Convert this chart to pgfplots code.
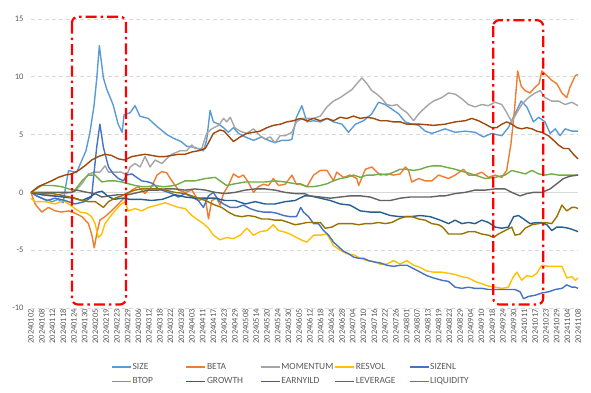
\documentclass[border=0pt]{standalone}
\usepackage{fontspec}
\setmainfont{Carlito}
\usepackage{pgfplots}
\pgfplotsset{compat=1.18}
\definecolor{cSize}{HTML}{5B9BD5}
\definecolor{cBeta}{HTML}{ED7D31}
\definecolor{cMom}{HTML}{A5A5A5}
\definecolor{cRes}{HTML}{FFC000}
\definecolor{cSizenl}{HTML}{4472C4}
\definecolor{cBtop}{HTML}{70AD47}
\definecolor{cGrowth}{HTML}{255E91}
\definecolor{cEarn}{HTML}{9E480E}
\definecolor{cLev}{HTML}{636363}
\definecolor{cLiq}{HTML}{997300}
\definecolor{labgray}{HTML}{595959}
\definecolor{gridgray}{HTML}{D9D9D9}
\begin{document}
\begin{tikzpicture}
\useasboundingbox (-31bp,-85bp) rectangle (560bp,308bp);
\begin{axis}[
  scale only axis, width=547bp, height=289bp,
  xmin=0, xmax=204, ymin=-10, ymax=15,
  clip=false,
  axis line style={draw=none}, major tick length=0pt, tick style={draw=none},
  ytick={-10,-5,0,5,10,15}, yticklabels={-10,-5,0,5,10,15},
  extra y ticks={0}, extra y tick labels={},
  extra y tick style={grid style={solid, gridgray, line width=0.8bp}},
  xtick={0,4,...,204},
  xticklabels={20240102,20240108,20240112,20240118,20240124,20240130,20240205,20240219,20240223,20240229,20240306,20240312,20240318,20240322,20240328,20240403,20240411,20240417,20240423,20240429,20240508,20240514,20240520,20240524,20240530,20240605,20240612,20240618,20240624,20240628,20240704,20240710,20240716,20240722,20240726,20240801,20240807,20240813,20240819,20240823,20240829,20240904,20240910,20240918,20240924,20240930,20241011,20241017,20241023,20241029,20241104,20241108},
  xticklabel style={rotate=90, anchor=east, font=\fontsize{8.5}{9}\selectfont, text=labgray, inner sep=1bp},
  yticklabel style={font=\fontsize{8.5}{9}\selectfont, text=labgray, xshift=-4bp},
  ymajorgrids, grid style={gridgray, line width=0.7bp, dash pattern=on 4bp off 3bp},
  every axis plot/.append style={line width=1.4bp, line join=round},
  legend columns=5,
  legend image code/.code={\draw[#1] (0bp,0bp) -- (19bp,0bp);},
  legend style={draw=none, fill=none, at={(0,0)}, anchor=north west, xshift=80bp, yshift=-54bp,
    font=\fontsize{9.5}{10}\selectfont, text=labgray, inner sep=0pt, row sep=5bp,
    nodes={inner sep=1bp}},
]
\addplot[cSize] coordinates {(0,0)(2,-0.3)(5,-0.6)(8,-0.8)(10,-0.6)(12,-0.9)(13,0.6)(14,1.9)(15.5,1.8)(17,1.7)(19,2.8)(20.5,3.6)(22,5.2)(23.5,7.5)(24.5,9.8)(25.5,12.7)(27,9.9)(28.3,8.9)(30.6,7.6)(32.5,5.9)(34,5.2)(34.7,6.7)(37,6.9)(38.8,7.5)(40.6,6.6)(43.7,6.4)(47,5.7)(50.7,5.0)(53,4.7)(56,4.4)(58,4.0)(61,3.9)(64.3,3.6)(65.5,4.5)(66.8,7.1)(68,6.1)(70,5.9)(71.8,5.6)(73.6,5.2)(75.5,5.6)(77.4,5.1)(79.9,4.8)(83,4.5)(86,4.8)(88.6,4.5)(91,4.3)(93.5,4.5)(96,4.5)(97.3,4.6)(99,6.5)(101,7.5)(102.9,6.1)(105.4,6.2)(107.9,6.1)(110.4,6.4)(112.8,6.1)(116,5.9)(118.4,5.2)(121,5.9)(124,6.2)(127.1,6.8)(129.6,7.8)(132.1,7.6)(134.6,7.2)(137.1,6.8)(139.6,6.1)(142,5.9)(144.6,5.8)(147,5.3)(149.5,5.1)(152,5.3)(154.4,5.5)(158.2,5.2)(161.9,5.3)(165.6,5.2)(168.7,4.8)(171.8,5.1)(175.6,4.9)(178,5.6)(180.5,6.8)(182.8,7.9)(184.9,7.4)(187.4,6.1)(189.3,6.5)(191.7,6.1)(193.6,5.1)(195.5,5.5)(197.3,4.9)(199.2,5.5)(201.7,5.3)(204,5.3)};
\addlegendentry{\makebox[52bp][l]{SIZE}}
\addplot[cBeta] coordinates {(0,0)(1.5,-1.0)(4,-1.7)(6.5,-1.3)(9,-1.6)(11.4,-1.7)(14,-1.6)(16.4,-1.8)(19,-2.1)(21.4,-2.7)(22.6,-3.6)(23.6,-4.8)(24.5,-3.6)(25.7,-2.4)(27.6,-2.1)(30,-1.6)(32.6,-1.0)(35,-0.4)(37.6,0.2)(40,0.5)(42.5,-0.1)(45,0.5)(47,1.5)(48.8,1.8)(50.6,1.7)(52.5,1.0)(55,0.2)(57.5,0)(60,0.2)(62.4,-0.7)(65,-0.5)(66.2,-2.3)(67.4,-0.7)(69.3,-0.5)(70.5,-1.1)(71.8,-0.1)(73.6,0.6)(75.5,1.6)(77.4,1.3)(79.2,1.5)(81,0.9)(83,0)(84.8,0.5)(86.7,0.7)(88.6,0.6)(90.4,1.2)(92.3,0.6)(94.8,0.7)(97.3,1.5)(99,0.7)(100.4,0.7)(102.9,0.5)(105.4,1.5)(107.9,1.9)(110.4,1.9)(112.8,1.0)(114,1.75)(116.6,1.3)(119,1.5)(121.5,1.2)(122.2,0.6)(124.7,2.0)(127.1,2.2)(128.4,1.9)(130.2,1.5)(132.7,1.6)(135.2,1.5)(137.7,1.6)(139.6,2.2)(140.8,1.9)(142,0.9)(144.6,1.2)(147,1.0)(149.5,1.0)(152,1.5)(155.7,1.2)(158.2,1.5)(161.3,2.0)(163.1,1.5)(165.6,1.5)(168.1,1.75)(170.6,1.3)(173.1,1.5)(175.6,1.3)(177.4,1.9)(179,4.2)(180.3,7.1)(181.5,10.5)(182.8,9.2)(184.3,8.8)(186.1,8.6)(188,9.1)(189.5,9.4)(190.5,10.5)(192.4,10.1)(194.2,9.7)(196.1,9.4)(198,8.6)(199.8,8.2)(201,9.1)(203,10.1)(204,10.2)};
\addlegendentry{\makebox[52bp][l]{BETA}}
\addplot[cMom] coordinates {(0,0)(4,-0.2)(8,-0.3)(12,-0.1)(15,0)(16.4,0.1)(19,0.75)(21.4,1.6)(23.9,1.75)(25.7,1.75)(27.6,2.3)(28.9,1.75)(31.3,1.75)(33.8,1.75)(35.7,1.5)(37,2.2)(38.8,2.5)(40.7,2.2)(42.5,3.1)(44.4,2.2)(46.3,2.8)(48.8,2.5)(50.5,2.9)(52.5,3.3)(55.6,3.6)(58,3.6)(60,4.1)(61.2,3.8)(63.7,3.8)(65.5,5.1)(67.4,5.5)(70,5.8)(71.8,6.4)(73,6.1)(74.3,6.5)(76,5.6)(78,5.3)(80.5,5.1)(83,5.5)(85.4,4.9)(87.3,4.6)(89.2,4.8)(91,4.3)(92.9,4.9)(94.8,4.9)(97.3,5.2)(99,6.1)(101,6.4)(102.9,6.4)(105.4,6.4)(107.9,6.6)(110.4,7.4)(112.8,7.9)(115.3,8.2)(117.8,8.6)(119.7,8.9)(121.5,9.4)(123.4,9.9)(125.3,9.4)(127.1,8.8)(129,8.5)(130.9,8.1)(132.7,7.6)(134.6,7.5)(136.5,7.6)(138.3,7.2)(140.2,6.9)(142.7,6.2)(144.6,6.8)(146.4,7.2)(148.3,7.6)(150.1,7.9)(153.2,8.2)(155.7,8.6)(158.2,8.5)(160.7,8.1)(163.1,7.6)(165.6,7.4)(168.1,7.6)(170.6,7.5)(173.1,7.8)(175.6,7.6)(177.4,6.9)(179.3,6.1)(181.2,6.9)(183,7.6)(185.5,8.2)(188,8.6)(189.9,8.8)(191.7,8.2)(194.2,7.9)(196.7,7.9)(199.2,7.6)(201.7,7.8)(204,7.5)};
\addlegendentry{\makebox[52bp][l]{MOMENTUM}}
\addplot[cRes] coordinates {(0,-0.5)(1.5,-0.8)(5.2,-0.8)(9,-1.0)(12,-0.7)(14,-1.0)(15.8,-1.3)(18.3,-1.7)(20.8,-1.8)(22.6,-2.1)(23.9,-2.7)(25.1,-3.9)(26.4,-3.6)(27.6,-2.7)(29.5,-2.1)(31.3,-1.6)(33.2,-1.1)(35,-0.8)(36.3,-1.6)(38.8,-1.4)(41.3,-1.6)(43.8,-1.3)(46.9,-1.1)(50,-0.9)(52.5,-1.1)(55,-1.3)(57.5,-1.4)(60,-2.0)(62.4,-2.4)(64.3,-2.7)(66.2,-3.1)(68,-3.7)(70.5,-4.1)(73,-3.9)(75.5,-4.0)(78,-3.7)(80.5,-3.1)(83,-3.7)(85.4,-3.4)(88,-3.3)(90.4,-2.8)(92.3,-3.3)(94.2,-3.4)(96.6,-3.6)(99,-3.9)(101.6,-4.2)(102.9,-4.3)(105.4,-3.7)(107.9,-3.7)(110.4,-3.6)(112.8,-4.6)(115.3,-5.0)(117.8,-5.3)(120.3,-5.4)(122.8,-5.7)(125.3,-5.9)(127.8,-6.0)(130.2,-6.2)(132.7,-6.2)(135.2,-5.9)(137.7,-6.2)(140.2,-5.9)(142.7,-6.3)(145.2,-6.5)(147.6,-6.8)(150.1,-6.9)(153.2,-6.9)(155.7,-7.0)(158.2,-7.1)(160.7,-7.3)(163.1,-7.4)(165.6,-7.7)(168.1,-7.9)(170.6,-8.1)(173.1,-8.2)(175.6,-8.3)(178,-8.2)(179.9,-7.3)(181.2,-6.9)(183,-7.6)(184.9,-7.2)(186.8,-7.3)(188.6,-7.0)(190.5,-6.3)(193,-6.4)(195.5,-6.4)(198,-6.4)(199.8,-7.4)(201.7,-7.3)(203,-7.6)(204,-7.4)};
\addlegendentry{\makebox[52bp][l]{RESVOL}}
\addplot[cSizenl] coordinates {(0,0)(3,-0.4)(6,-0.7)(9,-0.5)(12.7,-0.7)(16.4,-1.0)(20,-0.8)(22.6,-0.4)(23.6,1.9)(24.5,3.9)(25.7,5.9)(27,3.9)(28.9,2.2)(30.7,1.6)(32.6,1.2)(34.5,1.0)(35.7,1.5)(37.6,1.6)(39.4,1.3)(41.3,1.0)(43.8,0.9)(45.6,0.75)(47.5,0.3)(50,0.1)(52.5,-0.1)(55,-0.4)(57.5,-0.1)(60,-0.4)(62.4,-0.7)(64.3,-1.3)(66.2,-0.3)(68,0)(70,-0.7)(71.8,-1.0)(74.3,-1.3)(76.7,-1.3)(79.2,-1.1)(81.7,-1.4)(84.2,-1.6)(86.7,-1.7)(89.2,-1.7)(91.7,-1.8)(94.2,-2.0)(96.6,-2.1)(99,-2.1)(100.6,-1.3)(101.6,-1.7)(103.5,-2.1)(105.4,-2.7)(107.2,-2.7)(109.1,-3.3)(111,-3.7)(112.8,-4.3)(114.7,-4.7)(116.6,-5.1)(118.4,-5.3)(120.3,-5.6)(122.2,-5.7)(124,-5.7)(125.9,-5.9)(127.8,-6.0)(130.2,-6.1)(132.7,-6.3)(135.2,-6.4)(137.7,-6.3)(140.2,-6.3)(142.7,-6.6)(145.2,-6.9)(147.6,-7.2)(150.1,-7.4)(153.2,-7.6)(155.7,-7.7)(158.2,-8.2)(160.7,-8.3)(163.1,-8.2)(165.6,-8.3)(168.1,-8.3)(170.6,-8.4)(175.6,-8.4)(180.5,-8.4)(182.4,-8.6)(183.7,-9.2)(185.5,-9.0)(188,-8.9)(190.5,-8.7)(193,-8.6)(195.5,-8.4)(198,-8.3)(199.8,-8.0)(201.7,-8.2)(203,-8.2)(204,-8.3)};
\addlegendentry{\makebox[52bp][l]{SIZENL}}
\addplot[cBtop] coordinates {(0,0)(4,0.6)(8,0.6)(11.4,0.5)(14,0.3)(16.4,0.2)(19,1.0)(21.4,1.5)(23.9,1.5)(26.4,0.9)(28.9,1.0)(31.3,1.0)(33.8,0.9)(36.3,0.75)(38.8,0.6)(41.3,0.5)(43.8,0.5)(46.3,0.6)(48.8,0.5)(50,0.5)(53.7,0.6)(57.5,1.0)(61.2,1.0)(65,1.2)(68.7,1.3)(71.1,0.9)(73,0.6)(76.1,0.75)(79.9,0.9)(83.6,0.9)(87.3,0.9)(91,1.0)(94.8,0.9)(98.5,0.75)(100.4,0.75)(102.9,0.5)(105.4,0.5)(107.9,0.6)(110.4,0.75)(112.8,1.0)(115.3,1.2)(117.8,1.3)(120.3,1.5)(122.8,1.3)(125.3,1.5)(127.8,1.5)(130.2,1.6)(132.7,1.5)(135.2,1.75)(137.7,2.0)(140.2,2.0)(142.7,1.9)(145.2,2.0)(147.6,2.2)(150.1,2.3)(152.6,2.3)(154.4,2.2)(158.2,2.0)(161.9,1.75)(165.6,1.5)(169.4,1.2)(173.1,1.3)(176.8,1.5)(179.3,1.9)(181.8,1.75)(184.3,1.6)(186.8,1.9)(189.3,1.6)(191.7,1.5)(194.2,1.6)(196.7,1.5)(199.2,1.5)(201.7,1.5)(204,1.5)};
\addlegendentry{\makebox[52bp][l]{BTOP}}
\addplot[cGrowth] coordinates {(0,0)(4,-0.2)(8,-0.3)(12,-0.4)(16,-0.5)(19,-0.7)(22,-0.4)(24.5,0)(26.5,0.1)(28.5,-0.3)(31,-0.6)(34,-0.5)(37,-0.6)(41,-0.6)(45,-0.7)(49,-0.6)(53.7,-0.2)(57.5,-0.4)(61.2,-0.5)(65,-0.5)(68.7,-0.5)(72.4,-0.7)(76.1,-0.7)(79.9,-1.0)(83.6,-0.8)(87.3,-1.0)(91,-1.0)(94.8,-0.8)(98.5,-0.7)(102,-0.3)(104,-0.3)(107.9,-0.5)(111.6,-0.7)(115.3,-1.0)(119,-1.1)(122.8,-1.6)(126.5,-1.7)(130.2,-1.7)(134,-2.0)(137.7,-2.1)(141.4,-2.1)(145.2,-2.0)(148.9,-2.1)(152.6,-2.4)(155.7,-2.7)(158.2,-2.4)(160.7,-2.7)(163.1,-2.6)(165.6,-2.7)(168.1,-2.4)(170.6,-2.6)(173.1,-3.0)(175.6,-3.1)(178,-3.0)(180,-2.1)(181.8,-2.0)(183.7,-2.3)(186.1,-2.7)(188.6,-2.6)(190.5,-2.6)(192.4,-2.8)(194.2,-3.3)(196.1,-3.0)(198,-3.0)(200.5,-3.1)(203,-3.3)(204,-3.4)};
\addlegendentry{\makebox[52bp][l]{GROWTH}}
\addplot[cEarn] coordinates {(0,0)(2.7,0.5)(5.2,0.75)(7.7,1.0)(10.2,1.3)(12.7,1.5)(15.2,1.6)(17.7,1.9)(20.1,2.3)(22.6,2.8)(25.1,3.1)(27.6,3.3)(30,3.2)(32.6,2.9)(35,2.8)(37.6,3.1)(40,3.2)(42.5,3.3)(45,3.2)(47.5,3.1)(50,3.1)(52.5,3.2)(55,3.3)(57.5,3.3)(60,3.5)(62.4,3.6)(65,3.8)(66.2,4.3)(68,5.1)(70.5,5.4)(72,5.3)(75.5,4.4)(78,4.8)(80.5,5.1)(83,5.2)(85.4,5.3)(88,5.6)(90.4,5.8)(93,5.9)(95.4,6.1)(97.9,6.2)(100.4,6.4)(102.9,6.2)(105.4,6.4)(107.9,6.2)(110.4,6.4)(112.8,6.2)(115.3,6.5)(117.8,6.4)(120.3,6.6)(122.8,6.4)(125.3,6.5)(127.8,6.4)(130.2,6.2)(132.7,6.2)(135.2,6.1)(137.7,6.1)(140.2,5.9)(145.2,5.9)(150.1,5.8)(154.4,5.9)(158.2,6.1)(161.9,6.2)(164.4,6.4)(166.9,6.2)(169.4,5.9)(171.8,5.6)(173.7,5.6)(175.6,5.9)(177.4,6.1)(179.3,5.9)(181.2,5.6)(183,5.5)(184.9,5.6)(186.8,5.5)(188.6,5.3)(190.5,5.2)(193,4.9)(194.9,4.5)(196.7,4.1)(198.6,3.8)(200.5,3.8)(202.3,3.3)(204,2.9)};
\addlegendentry{\makebox[52bp][l]{EARNYILD}}
\addplot[cLev] coordinates {(0,0)(5,0)(10,0)(15,0)(17,0.2)(21,0)(23.9,-0.1)(26.4,-0.4)(29,-0.3)(32.6,-0.2)(36.3,-0.2)(40,0)(43.8,0.2)(47.5,0.2)(50,0.3)(53.7,0.3)(57.5,0.2)(61.2,0.3)(65,0.2)(68.7,0)(72.4,-0.1)(76.1,0)(79.9,0.2)(83.6,0.3)(87.3,0.3)(91,0.2)(94.8,0)(98.5,-0.1)(102,-0.1)(104,-0.3)(107.9,-0.4)(111.6,-0.5)(115.3,-0.4)(119,-0.3)(122.8,-0.3)(126.5,-0.4)(130.2,-0.7)(134,-0.7)(137.7,-0.5)(141.4,-0.4)(145.2,-0.4)(148.9,-0.4)(152.6,-0.3)(154.4,-0.3)(158.2,-0.1)(161.9,0)(165.6,0.2)(169.4,0.2)(173.1,0.3)(176.8,0.3)(179.3,0)(182.4,-0.3)(184.9,-0.1)(187.4,0)(190.5,0)(193.6,0.3)(196.1,0.75)(198.6,1.2)(201,1.4)(204,1.5)};
\addlegendentry{\makebox[52bp][l]{LEVERAGE}}
\addplot[cLiq] coordinates {(0,0)(4,-0.1)(8,-0.1)(12.5,-0.3)(16.4,-0.5)(19,-0.7)(21.4,-0.8)(24,-0.8)(27,-1.3)(28.9,-0.8)(31.3,-0.5)(33.8,-0.3)(36.3,0)(38.8,0.2)(41.3,0.3)(45,0.3)(48.8,0.3)(50,0.2)(53.7,0)(57.5,-0.1)(61.2,-0.4)(65,-0.7)(68.7,-1.1)(71.1,-1.3)(73.6,-1.7)(76.1,-2.0)(78.6,-2.1)(81.1,-2.0)(83.6,-2.1)(86,-2.3)(88.5,-2.3)(91,-2.4)(93.5,-2.4)(96,-2.6)(98.5,-2.8)(101,-2.7)(102.9,-2.6)(105.4,-2.6)(107.9,-2.6)(109.7,-3.1)(112.2,-3.0)(114.7,-2.7)(117.2,-2.7)(119.7,-2.7)(122.2,-2.8)(124.7,-2.7)(127.1,-2.7)(129.6,-2.6)(132.1,-2.7)(134.6,-2.6)(137.1,-2.3)(139.6,-2.1)(142.1,-2.1)(144.6,-2.3)(147,-2.4)(149.5,-2.7)(152,-2.8)(153.5,-3.0)(155.7,-3.6)(158.2,-3.6)(160.7,-3.6)(163.1,-3.4)(165.6,-3.4)(168.1,-3.6)(170.6,-3.7)(172.5,-3.9)(174.3,-3.6)(176.8,-3.3)(179.3,-3.0)(180.5,-3.7)(182.4,-3.6)(184.3,-3.1)(186.8,-2.8)(189.3,-2.7)(191.7,-2.6)(194.2,-2.7)(196.1,-2.1)(198,-1.1)(199.8,-1.6)(201.7,-1.3)(203,-1.3)(204,-1.4)};
\addlegendentry{\makebox[52bp][l]{LIQUIDITY}}
\draw[red, line width=2.2bp, dash pattern=on 11bp off 4bp on 2.5bp off 4bp, rounded corners=6bp]
  (axis cs:15.3,15.2) rectangle (axis cs:35.4,-9.7);
\draw[red, line width=2.2bp, dash pattern=on 11bp off 4bp on 2.5bp off 4bp, rounded corners=6bp]
  (axis cs:172.4,14.9) rectangle (axis cs:191,-9.7);
\end{axis}
\end{tikzpicture}
\end{document}
